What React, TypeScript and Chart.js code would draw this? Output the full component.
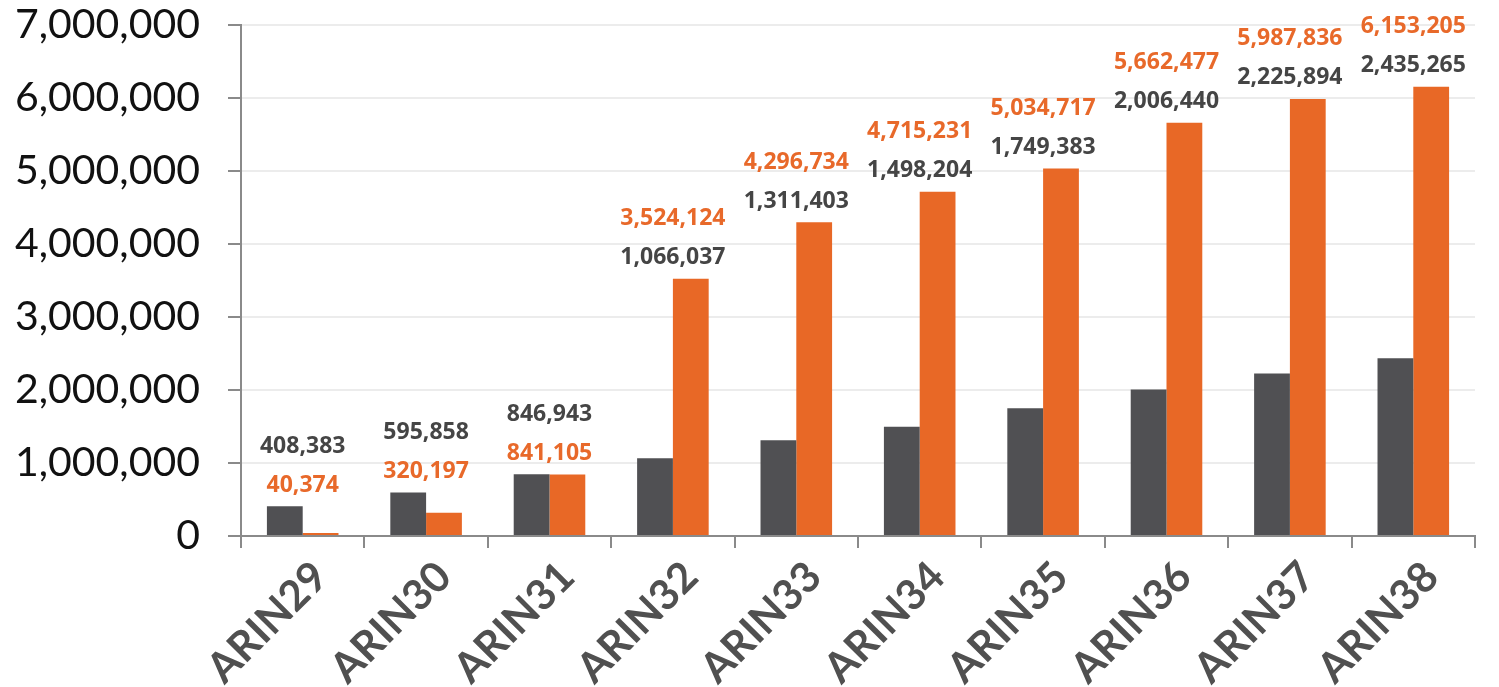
import React, { useEffect, useRef } from "react";
import { Chart, registerables } from "chart.js";

Chart.register(...registerables);

const categories = ["ARIN29", "ARIN30", "ARIN31", "ARIN32", "ARIN33", "ARIN34", "ARIN35", "ARIN36", "ARIN37", "ARIN38"];
const graySeries = [408383, 595858, 846943, 1066037, 1311403, 1498204, 1749383, 2006440, 2225894, 2435265];
const orangeSeries = [40374, 320197, 841105, 3524124, 4296734, 4715231, 5034717, 5662477, 5987836, 6153205];
const yMax = 7000000;
const yStep = 1000000;

const GRAY = "#505053";
const ORANGE = "#E86826";
const GRAY_TEXT = "#454545";
const ORANGE_TEXT = "#E8692A";

const fmt = (v: number) => v.toLocaleString("en-US");

const labelPlugin = {
  id: "stackedLabels",
  afterDatasetsDraw(chart: any) {
    const { ctx, scales } = chart;
    const xs = scales.x;
    const ys = scales.y;
    ctx.save();
    ctx.font = "bold 23px 'Open Sans'";
    ctx.textAlign = "center";
    ctx.textBaseline = "middle";
    categories.forEach((_, i) => {
      const g = graySeries[i];
      const o = orangeSeries[i];
      const top = ys.getPixelForValue(Math.max(g, o));
      const cx = xs.getPixelForValue(i);
      const grayUpper = g >= o;
      const upperY = top - 60;
      const lowerY = top - 21;
      ctx.fillStyle = GRAY_TEXT;
      ctx.fillText(fmt(g), cx, grayUpper ? upperY : lowerY);
      ctx.fillStyle = ORANGE_TEXT;
      ctx.fillText(fmt(o), cx, grayUpper ? lowerY : upperY);
    });
    ctx.restore();
  },
};

export default function App() {
  const ref = useRef<HTMLCanvasElement | null>(null);
  useEffect(() => {
    if (!ref.current) return;
    const chart = new Chart(ref.current, {
      type: "bar",
      data: {
        labels: categories,
        datasets: [
          { data: graySeries, backgroundColor: GRAY, categoryPercentage: 0.58, barPercentage: 1 },
          { data: orangeSeries, backgroundColor: ORANGE, categoryPercentage: 0.58, barPercentage: 1 },
        ],
      },
      options: {
        animation: false,
        responsive: false,
        devicePixelRatio: 1,
        layout: { padding: { top: 25, right: 24, left: 0, bottom: 0 } },
        plugins: { legend: { display: false }, tooltip: { enabled: false } },
        scales: {
          x: {
            grid: { drawOnChartArea: false, drawTicks: true, tickLength: 12, tickColor: "#8a8a8a", lineWidth: 2 },
            border: { color: "#8a8a8a", width: 2 },
            ticks: {
              color: "#505050",
              font: { family: "Lato", size: 42, weight: "bold" },
              maxRotation: 45,
              minRotation: 45,
              labelOffset: 18,
              padding: 4,
            },
            afterFit: (s: any) => { s.height = 151; s.paddingLeft = 0; s.paddingRight = 0; },
          },
          y: {
            min: 0,
            max: yMax,
            grid: { color: "#ececec", lineWidth: 2, tickLength: 13, tickColor: "#8a8a8a" },
            border: { color: "#8a8a8a", width: 2 },
            ticks: {
              stepSize: yStep,
              color: "#111111",
              font: { family: "Lato", size: 41 },
              padding: 28,
              callback: (v: any) => fmt(Number(v)),
            },
            afterFit: (s: any) => { s.width = 241; s.paddingTop = 0; s.paddingBottom = 0; },
          },
        },
      },
      plugins: [labelPlugin],
    });
    return () => chart.destroy();
  }, []);
  return (
    <div style={{ position: "fixed", left: 0, top: 0, width: 1499, height: 687, background: "#fff" }}>
      <canvas ref={ref} width={1499} height={687} style={{ width: 1499, height: 687 }} />
    </div>
  );
}
